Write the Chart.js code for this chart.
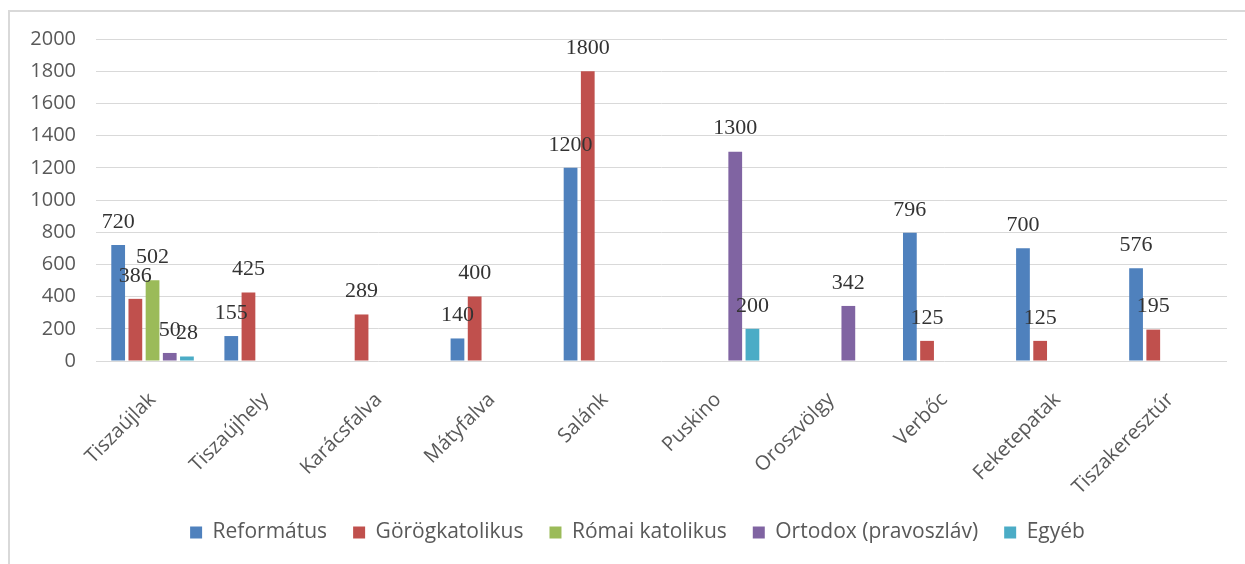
<!DOCTYPE html>
<html>
<head>
<meta charset="utf-8">
<script src="https://cdn.jsdelivr.net/npm/chart.js@4"></script>
<style>
  body { margin: 0; background: #fff; }
  #keret {
    position: absolute; left: 8px; top: 10px;
    width: 1300px; height: 600px;
    border: 2px solid #d9d9d9; box-sizing: border-box;
  }
  #doboz { position: absolute; left: 0; top: 0; width: 1245px; height: 564px; }
</style>
</head>
<body>
<div id="keret"></div>
<div id="doboz"><canvas id="grafico"></canvas></div>
<script>
const telepulesek = ['Tiszaújlak', 'Tiszaújhely', 'Karácsfalva', 'Mátyfalva', 'Salánk',
                     'Puskino', 'Oroszvölgy', 'Verbőc', 'Feketepatak', 'Tiszakeresztúr'];
const reformatus     = [720, 155, null, 140, 1200, null, null, 796, 700, 576];
const gorogkatolikus = [386, 425, 289, 400, 1800, null, null, 125, 125, 195];
const romaiKatolikus = [502, null, null, null, null, null, null, null, null, null];
const ortodox        = [50, null, null, null, null, 1300, 342, null, null, null];
const egyeb          = [28, null, null, null, null, 200, null, null, null, null];
const yTicks = [0, 200, 400, 600, 800, 1000, 1200, 1400, 1600, 1800, 2000];

const szurke = '#595959';
const betu = "'Open Sans', sans-serif";

// feliratok az oszlopok fölé
const ertekFeliratok = {
  id: 'ertekFeliratok',
  afterDatasetsDraw(chart) {
    const ctx = chart.ctx;
    ctx.save();
    ctx.font = "22px 'Liberation Serif', serif";
    ctx.fillStyle = '#333';
    ctx.textAlign = 'center';
    ctx.textBaseline = 'middle';
    chart.data.datasets.forEach((ds, i) => {
      chart.getDatasetMeta(i).data.forEach((bar, j) => {
        const v = ds.data[j];
        if (v === null || v === undefined) return;
        ctx.fillText(String(v), bar.x, bar.y - 23);
      });
    });
    ctx.restore();
  }
};

// a jelmagyarázat kicsit jobbra tolva, mint az eredetin
const legendEltolas = {
  id: 'legendEltolas',
  afterLayout(chart) {
    chart.legend.left += 24;
    chart.legend.right += 24;
  }
};

const ctx = document.getElementById('grafico').getContext('2d');
new Chart(ctx, {
  type: 'bar',
  data: {
    labels: telepulesek,
    datasets: [
      { label: 'Református', data: reformatus, backgroundColor: '#4F81BD' },
      { label: 'Görögkatolikus', data: gorogkatolikus, backgroundColor: '#C0504D' },
      { label: 'Római katolikus', data: romaiKatolikus, backgroundColor: '#9BBB59' },
      { label: 'Ortodox (pravoszláv)', data: ortodox, backgroundColor: '#8064A2' },
      { label: 'Egyéb', data: egyeb, backgroundColor: '#4BACC6' }
    ]
  },
  options: {
    responsive: true,
    maintainAspectRatio: false,
    animation: false,
    datasets: { bar: { categoryPercentage: 0.76, barPercentage: 0.8 } },
    layout: { padding: { left: 0, right: 18, top: 39, bottom: 11 } },
    scales: {
      x: {
        grid: { display: false },
        border: { display: false },
        ticks: {
          maxRotation: 45, minRotation: 45,
          color: szurke, font: { family: betu, size: 20 }, padding: 19
        },
        afterFit(scale) { scale.height = 135; }
      },
      y: {
        min: 0, max: 2000,
        afterBuildTicks(scale) { scale.ticks = yTicks.map(v => ({ value: v })); },
        grid: { color: '#d9d9d9', drawTicks: false },
        border: { display: false },
        ticks: {
          color: szurke, font: { family: betu, size: 20 }, padding: 20,
          callback: v => String(v)
        },
        afterFit(scale) { scale.width = 96; }
      }
    },
    plugins: {
      legend: {
        position: 'bottom',
        labels: {
          boxWidth: 12, boxHeight: 12, padding: 26,
          color: szurke, font: { family: betu, size: 21 }
        }
      },
      tooltip: { enabled: false }
    }
  },
  plugins: [ertekFeliratok, legendEltolas]
});
</script>
</body>
</html>
